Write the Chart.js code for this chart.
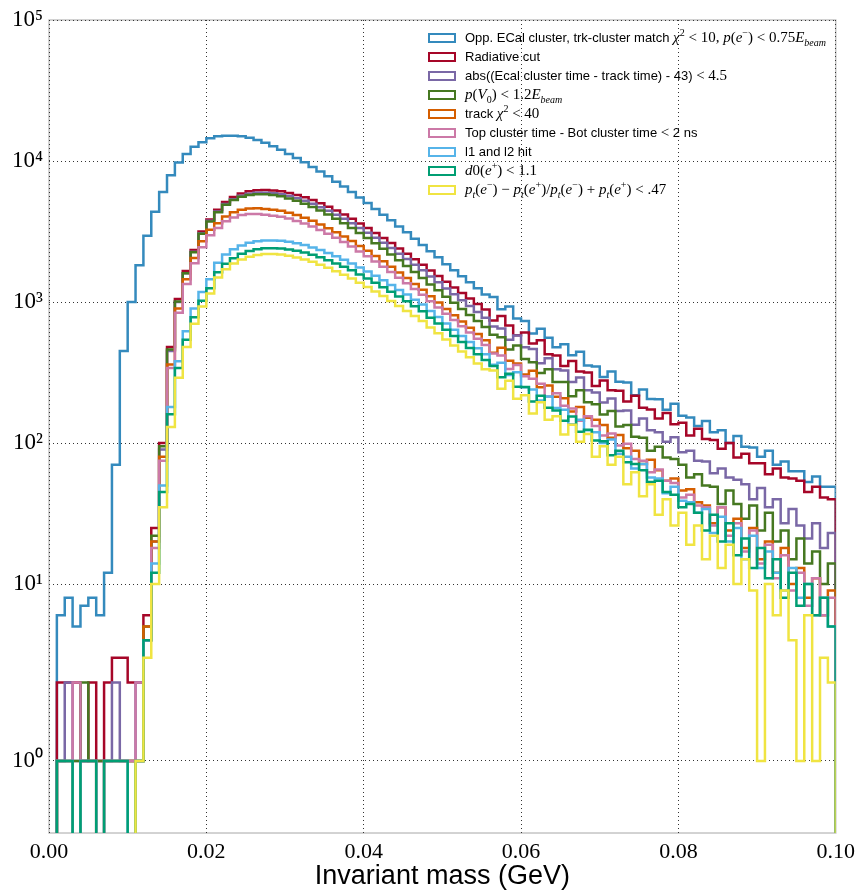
<!DOCTYPE html>
<html>
<head>
<meta charset="utf-8">
<script src="https://cdn.jsdelivr.net/npm/chart.js@4.4.0/dist/chart.umd.min.js"></script>
<style>
    html, body { margin: 0; padding: 0; background: #fff; }
    #contenedor { position: relative; width: 861px; height: 893px; }
    #leyenda { position: absolute; left: 428px; top: 28px; font-family: 'Liberation Sans', Arial, sans-serif; font-size: 13px; color: #000; }
    .fila { height: 19px; display: flex; align-items: center; white-space: nowrap; }
    .caja { width: 28px; height: 10px; box-sizing: border-box; border: 2px solid; margin-right: 9px; flex: none; }
    .m { font-family: 'Liberation Serif', 'DejaVu Serif', serif; font-size: 15px; }
    .m sup, .m sub { font-size: 10px; line-height: 0; }
</style>
</head>
<body>
<div id="contenedor">
    <canvas id="grafico" width="861" height="893"></canvas>
    <div id="leyenda"></div>
</div>
<script>
// Histogramas de masa invariante, bins de 0.001 GeV entre 0 y 0.1
const anchoBin = 0.001;
const ticksX = [0, 0.02, 0.04, 0.06, 0.08, 0.1];
const ticksY = [1, 10, 100, 1000, 10000, 100000];

const oppEcal = [0, 6, 8, 5, 7, 8, 6, 12, 70, 450,
    1000, 1820, 2950, 4370, 6030, 7940, 9770, 11200, 12600, 13600,
    14500, 15000, 15100, 15100, 15000, 14600, 14100, 13500, 12700, 12000,
    11200, 10500, 9800, 9080, 8420, 7800, 7120, 6590, 6030, 5520,
    5030, 4570, 4160, 3800, 3430, 3120, 2810, 2540, 2290, 2080,
    1850, 1680, 1520, 1380, 1250, 1130, 1087, 888, 931, 764,
    732, 599, 647, 557, 478, 502, 420, 444, 355, 349,
    294, 322, 272, 269, 218, 240, 205, 204, 172, 190,
    156, 152, 132, 143, 119, 123, 100, 112, 94, 93,
    80, 88, 70, 74, 63, 63, 53, 58, 49, 49];

const radiativo = [0, 2, 2, 2, 1, 2, 1, 2, 3, 3,
    2, 2, 6, 25, 100, 480, 1050, 1660, 2340, 3160,
    3850, 4520, 5130, 5560, 5890, 6100, 6210, 6240, 6190, 6100,
    5940, 5750, 5530, 5280, 5010, 4730, 4450, 4170, 3890, 3610,
    3350, 3090, 2850, 2620, 2400, 2200, 2010, 1840, 1670, 1530,
    1390, 1270, 1160, 1060, 968, 885, 738, 795, 681, 581,
    608, 507, 535, 427, 418, 352, 382, 321, 316, 254,
    278, 237, 235, 197, 216, 178, 173, 149, 163, 136,
    139, 113, 126, 107, 105, 91, 100, 79, 84, 72,
    72, 60, 66, 57, 56, 54, 45, 49, 41, 40];

const tiempoEcal = [0, 1, 2, 1, 1, 1, 1, 1, 2, 1,
    1, 2, 4, 20, 90, 450, 1000, 1600, 2270, 3070,
    3770, 4380, 4960, 5365, 5666, 5856, 5943, 5959, 5899, 5801,
    5637, 5440, 5220, 4974, 4709, 4437, 4165, 3895, 3622, 3354,
    3105, 2858, 2631, 2413, 2203, 2015, 1837, 1678, 1515, 1382,
    1248, 1134, 1030, 937, 851, 774, 671, 649, 539, 578,
    478, 465, 368, 399, 334, 327, 271, 292, 237, 228,
    194, 207, 169, 170, 135, 149, 123, 119, 102, 110,
    86, 88, 75, 74, 61, 66, 57, 55, 51, 40,
    48, 35, 40, 27, 34, 26, 21, 27, 18, 23];

const momentoV0 = [0, 1, 1, 1, 2, 1, 1, 1, 1, 1,
    1, 1, 5, 22, 95, 460, 1010, 1600, 2250, 3050,
    3720, 4339, 4902, 5288, 5575, 5746, 5822, 5822, 5736, 5613,
    5428, 5218, 4983, 4723, 4450, 4171, 3896, 3624, 3355, 3091,
    2847, 2606, 2385, 2176, 1978, 1799, 1631, 1481, 1333, 1210,
    1090, 987, 894, 810, 733, 664, 585, 563, 461, 492,
    394, 374, 314, 334, 271, 271, 215, 237, 195, 188,
    159, 169, 131, 134, 111, 109, 88, 94, 79, 77,
    70, 57, 60, 50, 49, 37, 46, 37, 29, 36,
    24, 32, 20, 24, 15, 21, 14, 17, 10, 14];

const chi2Traza = [0, 1, 1, 0, 1, 1, 0, 1, 1, 1,
    1, 1, 5, 20, 80, 360, 900, 1450, 2050, 2700,
    3250, 3616, 4048, 4324, 4514, 4606, 4621, 4574, 4517, 4431,
    4294, 4136, 3959, 3763, 3553, 3339, 3125, 2915, 2706, 2499,
    2307, 2117, 1943, 1778, 1620, 1478, 1343, 1224, 1098, 994,
    892, 806, 727, 656, 592, 535, 436, 473, 384, 366,
    306, 325, 249, 256, 213, 208, 167, 180, 151, 146,
    134, 109, 114, 92, 88, 71, 76, 64, 54, 56,
    46, 47, 38, 36, 27, 35, 24, 29, 18, 25,
    15, 20, 12, 18, 10, 13, 8, 11, 6, 9];

const topBot = [0, 1, 1, 2, 1, 1, 0, 1, 1, 1,
    1, 2, 4, 18, 75, 340, 840, 1340, 1880, 2450,
    2970, 3345, 3732, 3975, 4138, 4209, 4207, 4150, 4098, 4026,
    3903, 3761, 3606, 3427, 3237, 3046, 2853, 2665, 2474, 2285,
    2111, 1941, 1781, 1632, 1488, 1357, 1236, 1126, 1011, 916,
    824, 744, 672, 607, 548, 496, 431, 418, 335, 357,
    297, 286, 263, 214, 225, 184, 176, 144, 155, 132,
    113, 117, 96, 99, 77, 75, 62, 65, 54, 52,
    41, 43, 36, 35, 26, 35, 22, 27, 17, 24,
    14, 19, 11, 16, 9, 12, 7, 11, 6, 8];

const l1l2 = [0, 1, 1, 0, 1, 1, 0, 1, 1, 1,
    0, 1, 4, 14, 50, 180, 380, 620, 900, 1180,
    1450, 1898, 2170, 2369, 2521, 2629, 2695, 2727, 2730, 2715,
    2673, 2611, 2533, 2439, 2335, 2228, 2114, 1997, 1879, 1758,
    1648, 1533, 1425, 1320, 1219, 1129, 1039, 959, 862, 782,
    703, 636, 575, 520, 470, 426, 359, 371, 304, 317,
    249, 240, 200, 214, 177, 172, 136, 146, 123, 119,
    100, 106, 84, 80, 66, 71, 57, 56, 44, 49,
    39, 38, 32, 34, 23, 30, 20, 25, 15, 22,
    13, 17, 12, 9, 13, 8, 10, 6, 8, 5];

const d0Positron = [0, 1, 1, 0, 1, 1, 0, 1, 1, 1,
    0, 1, 4, 12, 45, 160, 340, 540, 780, 1020,
    1250, 1627, 1867, 2046, 2197, 2300, 2366, 2402, 2408, 2397,
    2358, 2312, 2245, 2165, 2074, 1977, 1878, 1781, 1677, 1570,
    1471, 1369, 1274, 1182, 1094, 1012, 933, 861, 775, 704,
    635, 575, 521, 472, 427, 388, 352, 293, 310, 251,
    250, 197, 216, 178, 170, 144, 154, 120, 124, 104,
    103, 82, 88, 73, 71, 64, 53, 54, 45, 43,
    35, 37, 32, 24, 31, 20, 27, 16, 21, 13,
    18, 11, 15, 8, 12, 7, 10, 6, 8, 5];

const asimetriaPt = [0, 0, 0, 0, 0, 0, 0, 0, 0, 0,
    0, 1, 3, 10, 35, 130, 290, 480, 700, 930,
    1150, 1492, 1711, 1874, 2006, 2098, 2158, 2190, 2188, 2170,
    2127, 2072, 2006, 1928, 1841, 1749, 1656, 1562, 1466, 1369,
    1278, 1186, 1101, 1018, 938, 865, 795, 732, 660, 601,
    542, 492, 446, 405, 367, 333, 327, 243, 276, 206,
    218, 162, 195, 146, 155, 115, 135, 102, 116, 80,
    95, 70, 80, 51, 62, 42, 51, 31, 40, 26,
    32, 19, 26, 15, 22, 13, 19, 10, 15, 9,
    1, 10, 6, 9, 4, 1, 6, 1, 3, 2];

const series = [oppEcal, radiativo, tiempoEcal, momentoV0, chi2Traza, topBot, l1l2, d0Positron, asimetriaPt];
const colores = ['#348ABD', '#A60628', '#7A68A6', '#467821', '#D55E00', '#CC79A7', '#56B4E9', '#009E73', '#F0E442'];
const etiquetas = [
    'Opp. ECal cluster, trk-cluster match <span class="m"><i>χ</i><sup>2</sup> &lt; 10, <i>p</i>(<i>e</i><sup>−</sup>) &lt; 0.75<i>E</i><sub><i>beam</i></sub></span>',
    'Radiative cut',
    'abs((Ecal cluster time - track time) - 43) <span class="m">&lt; 4.5</span>',
    '<span class="m"><i>p</i>(<i>V</i><sub>0</sub>) &lt; 1.2<i>E</i><sub><i>beam</i></sub></span>',
    'track <span class="m"><i>χ</i><sup>2</sup> &lt; 40</span>',
    'Top cluster time - Bot cluster time <span class="m">&lt;</span> 2 ns',
    'l1 and l2 hit',
    '<span class="m"><i>d</i>0(<i>e</i><sup>+</sup>) &lt; 1.1</span>',
    '<span class="m"><i>p<sub>t</sub></i>(<i>e</i><sup>−</sup>) − <i>p<sub>t</sub></i>(<i>e</i><sup>+</sup>)/<i>p<sub>t</sub></i>(<i>e</i><sup>−</sup>) + <i>p<sub>t</sub></i>(<i>e</i><sup>+</sup>) &lt; .47</span>'
];

// Escala symlog como la de matplotlib (linthresh = 2, base 10)
const LINTHRESH = 2;
const LINSCALE = 1 / (1 - 1 / 10);
function symlog(v) {
    const a = Math.abs(v);
    if (a <= LINTHRESH) return v * LINSCALE;
    return Math.sign(v) * LINTHRESH * (LINSCALE + Math.log10(a / LINTHRESH));
}
function symexp(t) {
    const a = Math.abs(t);
    if (a <= LINTHRESH * LINSCALE) return t / LINSCALE;
    return Math.sign(t) * LINTHRESH * Math.pow(10, a / LINTHRESH - LINSCALE);
}

class SymlogScale extends Chart.Scale {
    determineDataLimits() {
        this.min = this.options.min;
        this.max = this.options.max;
    }
    buildTicks() {
        return ticksY.map(value => ({ value }));
    }
    getLabelForValue(value) {
        return String(value);
    }
    configure() {
        super.configure();
        this._tInicio = symlog(this.min);
        this._tRango = symlog(this.max) - this._tInicio;
    }
    getPixelForValue(value) {
        return this.getPixelForDecimal((symlog(value) - this._tInicio) / this._tRango);
    }
    getPixelForTick(index) {
        return this.getPixelForValue(this.ticks[index].value);
    }
    getValueForPixel(pixel) {
        return symexp(this._tInicio + this.getDecimalForPixel(pixel) * this._tRango);
    }
}
SymlogScale.id = 'symlog';
SymlogScale.defaults = {};
Chart.register(SymlogScale);

// Pasa los valores de cada bin a puntos (borde izquierdo del bin) y cierra el contorno
function aPuntos(valores) {
    const puntos = valores.map((v, i) => ({ x: +(i * anchoBin).toFixed(3), y: v }));
    puntos.push({ x: +(valores.length * anchoBin).toFixed(3), y: 0 });
    return puntos;
}

// Leyenda en HTML para poder mezclar texto y fórmulas
const leyenda = document.getElementById('leyenda');
const nombres = etiquetas.map((html, i) => {
    const fila = document.createElement('div');
    fila.className = 'fila';
    fila.innerHTML = `<span class="caja" style="border-color:${colores[i]}"></span><span>${html}</span>`;
    leyenda.appendChild(fila);
    return fila.textContent;
});

const marco = {
    id: 'marco',
    beforeDraw(chart) {
        const { ctx, chartArea: a } = chart;
        ctx.save();
        ctx.fillStyle = '#fff';
        ctx.fillRect(0, 0, chart.width, chart.height);
        ctx.strokeStyle = '#c4c4c4';
        ctx.lineWidth = 1.5;
        ctx.strokeRect(a.left, a.top, a.right - a.left, a.bottom - a.top);
        ctx.restore();
    }
};

const superindices = { '0': '⁰', '1': '¹', '2': '²', '3': '³', '4': '⁴', '5': '⁵' };

const datasets = series.map((valores, i) => ({
    label: nombres[i],
    data: aPuntos(valores),
    borderColor: colores[i],
    backgroundColor: 'transparent',
    borderWidth: 2.5,
    pointRadius: 0,
    fill: false,
    stepped: 'before',
    order: series.length - 1 - i
}));

new Chart(document.getElementById('grafico'), {
    type: 'line',
    data: { datasets },
    plugins: [marco],
    options: {
        responsive: false,
        animation: false,
        layout: { padding: { top: 20, right: 23, left: 0, bottom: 0 } },
        plugins: { legend: { display: false }, tooltip: { enabled: false } },
        scales: {
            x: {
                type: 'linear',
                min: 0,
                max: 0.1,
                afterBuildTicks: s => { s.ticks = ticksX.map(value => ({ value })); },
                afterFit: s => { s.height = 60; },
                ticks: {
                    autoSkip: false,
                    maxRotation: 0,
                    padding: 6,
                    color: '#000',
                    font: { family: "'Liberation Serif', serif", size: 22 },
                    callback: v => v.toFixed(2)
                },
                grid: { color: '#333', lineWidth: 1, drawTicks: false },
                border: { display: false, dash: [1, 3] },
                title: {
                    display: true,
                    text: 'Invariant mass (GeV)',
                    color: '#000',
                    padding: { top: 0, bottom: 0 },
                    font: { family: "'Liberation Sans', Arial, sans-serif", size: 27 }
                }
            },
            y: {
                type: 'symlog',
                min: 0.08,
                max: 100000,
                afterFit: s => { s.width = 49; },
                ticks: {
                    padding: 6,
                    color: '#000',
                    font: { family: "'Liberation Serif', serif", size: 23 },
                    callback: v => '10' + String(Math.round(Math.log10(v))).split('').map(c => superindices[c]).join('')
                },
                grid: { color: '#333', lineWidth: 1, drawTicks: false },
                border: { display: false, dash: [1, 3] }
            }
        }
    }
});
</script>
</body>
</html>
